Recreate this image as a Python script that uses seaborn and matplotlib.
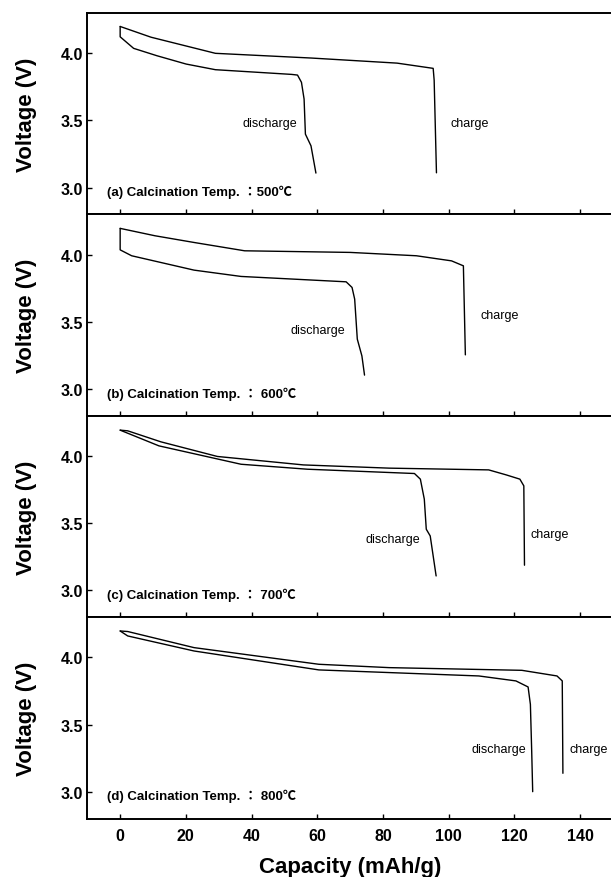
import matplotlib
matplotlib.use("Agg")
import matplotlib.pyplot as plt
import seaborn as sns
import pandas as pd

# charge / discharge curves (capacity in mAh/g, voltage in V)
chg_a_x = [0, 9.4, 29.0, 58.1, 84.3, 95.3, 95.6, 96.3]
chg_a_v = [4.20, 4.12, 4.00, 3.965, 3.927, 3.888, 3.80, 3.11]
dis_a_x = [0, 0, 4.1, 11.2, 20.1, 29.0, 52.2, 54.0, 55.2, 56.0, 56.4, 58.1, 59.6]
dis_a_v = [4.20, 4.123, 4.037, 3.982, 3.92, 3.878, 3.843, 3.838, 3.784, 3.659, 3.398, 3.311, 3.108]

chg_b_x = [0, 10.6, 22.5, 37.9, 70.0, 90.2, 100.9, 104.5, 105.1]
chg_b_v = [4.196, 4.141, 4.091, 4.029, 4.017, 3.992, 3.954, 3.917, 3.254]
dis_b_x = [0, 0, 3.5, 22.5, 36.8, 68.8, 70.6, 71.4, 72.2, 73.6, 74.4]
dis_b_v = [4.196, 4.036, 3.992, 3.885, 3.838, 3.798, 3.756, 3.669, 3.371, 3.246, 3.103]

chg_c_x = [0, 2.3, 12.4, 29.6, 55.8, 81.9, 112.2, 117.5, 121.7, 122.9, 123.1]
chg_c_v = [4.193, 4.188, 4.106, 3.997, 3.934, 3.910, 3.897, 3.860, 3.828, 3.778, 3.187]
dis_c_x = [0, 11.8, 36.8, 57.0, 89.6, 91.4, 92.6, 93.2, 94.4, 96.2]
dis_c_v = [4.193, 4.076, 3.939, 3.902, 3.870, 3.828, 3.679, 3.455, 3.405, 3.107]

chg_d_x = [0, 2.3, 22.5, 60.5, 81.9, 122.3, 133.0, 134.6, 134.8]
chg_d_v = [4.197, 4.193, 4.073, 3.949, 3.924, 3.904, 3.862, 3.825, 3.137]
dis_d_x = [0, 2.3, 22.5, 60.5, 109.2, 120.5, 124.2, 124.9, 125.3, 125.6]
dis_d_v = [4.197, 4.16, 4.048, 3.907, 3.862, 3.825, 3.78, 3.65, 3.30, 3.0]

panel_titles = ["(a) Calcination Temp. ：500℃",
                "(b) Calcination Temp. ： 600℃",
                "(c) Calcination Temp. ： 700℃",
                "(d) Calcination Temp. ： 800℃"]
dis_label_xy = [(45.7, 3.48), (60.3, 3.44), (83.1, 3.38), (115.2, 3.32)]
chg_label_xy = [(106.3, 3.48), (115.4, 3.55), (130.9, 3.42), (142.6, 3.32)]

curves = [(chg_a_x, chg_a_v, dis_a_x, dis_a_v),
          (chg_b_x, chg_b_v, dis_b_x, dis_b_v),
          (chg_c_x, chg_c_v, dis_c_x, dis_c_v),
          (chg_d_x, chg_d_v, dis_d_x, dis_d_v)]

sns.set_theme(style="ticks")
plt.rcParams['font.family'] = ['Liberation Sans', 'Noto Sans CJK TC', 'DejaVu Sans']
plt.rcParams['text.color'] = 'black'
plt.rcParams['axes.labelcolor'] = 'black'
plt.rcParams['xtick.color'] = 'black'
plt.rcParams['ytick.color'] = 'black'

fig, axes = plt.subplots(4, 1, figsize=(6.11, 8.78), dpi=100, sharex=True)
fig.subplots_adjust(left=0.1429, right=1.003, top=0.984, bottom=0.0666, hspace=0)

for i, ax in enumerate(axes):
    cx, cv, dx, dv = curves[i]
    sns.lineplot(x=cx, y=cv, sort=False, estimator=None, color='black', linewidth=1.0, ax=ax)
    sns.lineplot(x=dx, y=dv, sort=False, estimator=None, color='black', linewidth=1.0, ax=ax)

    ax.set_xlim(-10, 150)
    ax.set_ylim(2.8, 4.3)
    ax.set_yticks([3.0, 3.5, 4.0])
    ax.set_xticks(range(0, 141, 20))
    ax.tick_params(axis='y', direction='in', length=3.6, width=1.0, pad=3.3,
                   labelsize=11.5, left=True, right=False)
    ax.tick_params(axis='x', direction='in', length=3.6, width=1.0, pad=7,
                   labelsize=11.5, bottom=True, top=False)
    for lab in ax.get_yticklabels() + ax.get_xticklabels():
        lab.set_fontweight('bold')
    for sp in ax.spines.values():
        sp.set_linewidth(1.4)
        sp.set_color('black')
    ax.set_ylabel('Voltage (V)', fontsize=16, fontweight='bold', labelpad=17)

    ax.text(-3.9, 2.97, panel_titles[i], fontsize=9.5, fontweight='bold', va='center', ha='left')
    ax.text(*dis_label_xy[i], 'discharge', fontsize=9, ha='center', va='center')
    ax.text(*chg_label_xy[i], 'charge', fontsize=9, ha='center', va='center')

axes[-1].set_xlabel('Capacity (mAh/g)', fontsize=16, fontweight='bold', labelpad=9)
fig.align_ylabels(axes)

plt.savefig('out.png', dpi=100)
